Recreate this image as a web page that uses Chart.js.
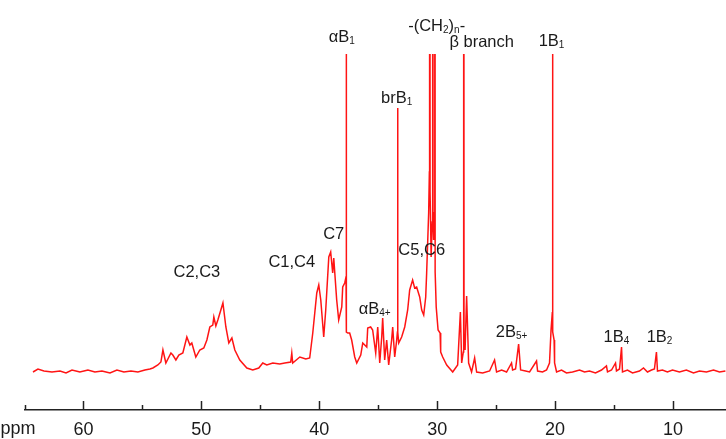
<!DOCTYPE html>
<html>
<head>
<meta charset="utf-8">
<script src="https://cdn.jsdelivr.net/npm/chart.js@4.4.1/dist/chart.umd.min.js"></script>
<style>
  html, body { margin: 0; padding: 0; background: #fff; }
  #wrap { width: 726px; height: 439px; }
</style>
</head>
<body>
<div id="wrap"><canvas id="grafico" width="726" height="439"></canvas></div>
<script>
// chemical shift (ppm) from left to right
const ppm = [
  64.28, 63.86, 63.35, 62.67, 61.99, 61.48, 60.97, 60.30, 59.62, 59.03,
  58.43, 57.75, 57.16, 56.57, 55.97, 55.38, 54.79, 54.36, 54.11, 53.69,
  53.43, 53.26, 53.01, 52.58, 52.42, 52.16, 51.91, 51.57, 51.23, 50.97,
  50.81, 50.47, 50.13, 49.79, 49.53, 49.28, 49.03, 48.94, 48.77, 48.60,
  48.17, 47.92, 47.67, 47.41, 47.16, 46.74, 46.14, 45.64, 45.13, 44.79,
  44.45, 43.94, 43.35, 42.92, 42.42, 42.33, 42.25, 41.65, 41.14, 40.81,
  40.55, 40.21, 40.04, 39.87, 39.62, 39.45, 39.19, 39.03, 38.86, 38.77,
  38.52, 38.35, 38.09, 38.01, 37.84, 37.73, 37.71, 37.69, 37.58, 37.42,
  37.25, 36.99, 36.82, 36.48, 36.31, 35.97, 35.89, 35.64, 35.47, 35.21,
  35.04, 34.87, 34.70, 34.62, 34.45, 34.28, 34.11, 33.86, 33.77, 33.60,
  33.43, 33.37, 33.35, 33.33, 33.26, 33.01, 32.75, 32.50, 32.33, 32.08,
  31.91, 31.74, 31.48, 31.31, 31.14, 30.97, 30.89, 30.72, 30.66, 30.64,
  30.60, 30.51, 30.42, 30.38, 30.35, 30.30, 30.23, 30.20, 30.17, 30.08,
  29.92, 29.75, 29.70, 29.53, 29.19, 28.68, 28.26, 28.03, 27.92, 27.78,
  27.75, 27.72, 27.63, 27.50, 27.33, 27.08, 26.82, 26.65, 26.14, 25.55,
  25.13, 24.96, 24.53, 24.11, 23.69, 23.60, 23.35, 23.09, 22.92, 22.50,
  22.16, 21.57, 21.48, 21.06, 20.72, 20.47, 20.34, 20.23, 20.21, 20.19,
  20.08, 20.04, 19.87, 19.45, 19.03, 18.52, 17.92, 17.50, 17.08, 16.57,
  16.06, 15.64, 15.55, 15.21, 14.87, 14.79, 14.53, 14.36, 14.28, 13.86,
  13.43, 12.84, 12.50, 12.16, 11.82, 11.57, 11.40, 11.31, 10.89, 10.47,
  10.04, 9.45, 8.86, 8.26, 7.75, 7.16, 6.56, 6.05, 5.55
];
// intensity (arbitrary units), tall peaks run off the top of the plot
const intensity = [
  0, 3, 1, 0, 1, -1, 2, 0, 2, 0,
  1, -1, 2, 0, 1, 0, 2, 3, 4, 7,
  10, 22, 9, 19, 17, 12, 17, 19, 35, 27,
  29, 15, 22, 24, 32, 45, 47, 55, 46, 52,
  69, 45, 29, 34, 22, 12, 4, 2, 4, 9,
  7, 9, 8, 9, 10, 19, 9, 15, 13, 14,
  39, 79, 87, 72, 35, 62, 115, 120, 99, 114,
  72, 52, 65, 85, 89, 95, 1200, 40, 39, 39,
  32, 15, 9, 17, 29, 25, 44, 45, 42, 19,
  45, 9, 35, 54, 12, 32, 7, 32, 45, 15,
  32, 40, 264, 40, 29, 35, 45, 62, 82, 92,
  84, 85, 75, 62, 57, 75, 99, 159, 200, 1500,
  180, 115, 150, 1500, 160, 132, 150, 1500, 100, 65,
  42, 39, 20, 15, 7, 0, 7, 60, 9, 20,
  1200, 30, 22, 76, 9, 0, 14, 0, -1, 1,
  12, 0, 2, 0, 9, 2, 3, 28, 2, 1,
  0, 11, 1, 0, 2, 9, 42, 60, 1200, 40,
  32, 9, 0, 2, -1, 0, 2, 0, 1, -1,
  2, 6, 0, 2, 9, 1, 3, 25, 0, 2,
  -1, 1, 4, 0, 2, 3, 20, 1, 2, 0,
  2, 0, 2, -1, 1, 0, 2, 0, 1
];
// axis ticks
const tickValues = [65, 60, 55, 50, 45, 40, 35, 30, 25, 20, 15, 10];
const tickLabels = ["", "60", "", "50", "", "40", "", "30", "", "20", "", "10"];
// peak assignments, "_{..}" marks a subscript
const peakLabels = ["C2,C3", "C1,C4", "C7", "αB_{1}", "brB_{1}", "-(CH_{2})_{n}-", "β branch",
  "1B_{1}", "αB_{4+}", "C5,C6", "2B_{5+}", "1B_{4}", "1B_{2}"];
const peakLabelPpm = [50.38, 42.33, 38.77, 38.09, 33.43, 30.04, 26.22, 20.30, 35.30, 31.31, 23.69, 14.79, 11.14];
const peakLabelHeight = [100, 110, 138, 335, 274, 346, 330, 331, 63, 122, 40, 35, 35];

const FONT = "'Liberation Sans', Arial, sans-serif";

function partes(texto) {
  const out = [];
  const re = /_\{([^}]*)\}/g;
  let last = 0, m;
  while ((m = re.exec(texto)) !== null) {
    if (m.index > last) out.push([texto.slice(last, m.index), false]);
    out.push([m[1], true]);
    last = re.lastIndex;
  }
  if (last < texto.length) out.push([texto.slice(last), false]);
  return out;
}

const etiquetas = {
  id: "etiquetas",
  afterDraw(chart) {
    const ctx = chart.ctx;
    const sx = chart.scales.x, sy = chart.scales.y;
    ctx.save();
    ctx.fillStyle = "#1a1a1a";
    ctx.textBaseline = "middle";
    ctx.textAlign = "left";
    peakLabels.forEach((txt, i) => {
      const segs = partes(txt);
      let w = 0;
      segs.forEach(s => {
        ctx.font = s[1] ? "10px " + FONT : "16.5px " + FONT;
        w += ctx.measureText(s[0]).width;
      });
      let x = sx.getPixelForValue(peakLabelPpm[i]) - w / 2;
      const y = sy.getPixelForValue(peakLabelHeight[i]);
      segs.forEach(s => {
        ctx.font = s[1] ? "10px " + FONT : "16.5px " + FONT;
        ctx.fillText(s[0], x, s[1] ? y + 4 : y);
        x += ctx.measureText(s[0]).width;
      });
    });
    // tick marks pointing up from the axis line
    const base = sx.top;
    ctx.strokeStyle = "#222";
    ctx.lineWidth = 1.5;
    tickValues.forEach(v => {
      const px = Math.round(sx.getPixelForValue(v)) + 0.5;
      const len = v % 10 === 0 ? 9 : 5;
      ctx.beginPath();
      ctx.moveTo(px, base);
      ctx.lineTo(px, base - len);
      ctx.stroke();
    });
    ctx.font = "18px " + FONT;
    ctx.textAlign = "center";
    ctx.fillText("ppm", 18, base + 19);
    ctx.restore();
  }
};

const datos = ppm.map((p, i) => ({ x: p, y: intensity[i] }));

new Chart(document.getElementById("grafico"), {
  type: "line",
  data: {
    datasets: [{
      data: datos,
      borderColor: "rgb(255,20,20)",
      borderWidth: 1.5,
      pointRadius: 0,
      tension: 0,
      fill: false
    }]
  },
  options: {
    animation: false,
    responsive: false,
    layout: { padding: { left: 24.5, right: 0, top: 54, bottom: 0 } },
    plugins: { legend: { display: false }, tooltip: { enabled: false } },
    scales: {
      x: {
        type: "linear",
        reverse: true,
        min: 5.5,
        max: 65,
        afterBuildTicks: s => { s.ticks = tickValues.map(v => ({ value: v })); },
        afterFit: s => { s.height = 29; },
        grid: { display: false, drawTicks: false },
        border: { display: true, color: "#222", width: 1.5 },
        ticks: {
          autoSkip: false,
          maxRotation: 0,
          padding: 9,
          color: "#1a1a1a",
          font: { family: FONT, size: 18 },
          callback: (v, i) => tickLabels[i]
        }
      },
      y: { display: false, min: -38, max: 318 }
    }
  },
  plugins: [etiquetas]
});
</script>
</body>
</html>
